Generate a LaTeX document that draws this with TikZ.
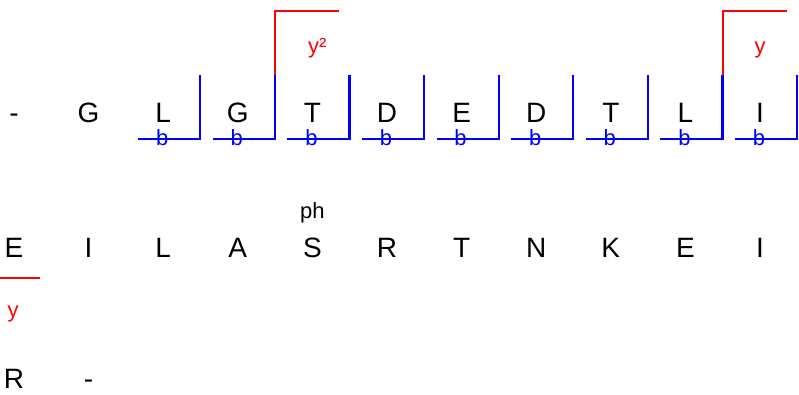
\documentclass[tikz,border=0pt]{standalone}
\usepackage{fontspec}
\setmainfont{Liberation Sans}
\usetikzlibrary{positioning,calc}

\begin{document}
\begin{tikzpicture}[
  x=1pt, y=-1pt,
  node distance=74.6pt, on grid,
  res/.style={inner sep=0pt,text height=19pt,text depth=0pt,font=\fontsize{28}{28}\selectfont},
  lab/.style={inner sep=0pt,anchor=base,font=\fontsize{22}{22}\selectfont},
  bion/.style={draw=blue,line width=2.2pt},
  yion/.style={draw=red,line width=2.2pt}]
  \useasboundingbox (0,0) rectangle (799,394);
  % top row
  \node[res] (t0) at (14,112.5) {-};
  \node[res] (t1) [right=of t0] {G};
  \node[res] (t2) [right=of t1] {L};
  \node[res] (t3) [right=of t2] {G};
  \node[res] (t4) [right=of t3] {T};
  \node[res] (t5) [right=of t4] {D};
  \node[res] (t6) [right=of t5] {E};
  \node[res] (t7) [right=of t6] {D};
  \node[res] (t8) [right=of t7] {T};
  \node[res] (t9) [right=of t8] {L};
  \node[res] (t10) [right=of t9] {I};
  % middle row
  \node[res] (m0) at (14,247.5) {E};
  \node[res] (m1) [right=of m0] {I};
  \node[res] (m2) [right=of m1] {L};
  \node[res] (m3) [right=of m2] {A};
  \node[res] (m4) [right=of m3] {S};
  \node[res] (m5) [right=of m4] {R};
  \node[res] (m6) [right=of m5] {T};
  \node[res] (m7) [right=of m6] {N};
  \node[res] (m8) [right=of m7] {K};
  \node[res] (m9) [right=of m8] {E};
  \node[res] (m10) [right=of m9] {I};
  % bottom row
  \node[res] (z0) at (14,378.5) {R};
  \node[res] (z1) [right=of z0] {-};
  % b ions
  \foreach \i in {2,...,10}{
    \draw[bion] ($(t\i)+(-25,26.5)$) -- ++(62,0) -- ++(0,-64);
    \node[lab,text=blue] (b\i) at ($(t\i)+(-1,33)$) {b};
  }
  % y ions
  \draw[yion] ($(t3)+(37,-37.5)$) -- ++(0,-64) -- ++(64,0);
  \node[lab,text=red] (y4) at ($(t4)+(5,-59.5)$) {y²};
  \draw[yion] ($(t9)+(37.5,-37.5)$) -- ++(0,-64) -- ++(64,0);
  \node[lab,text=red] (y10) at ($(t10)+(0,-59.5)$) {y};
  \draw[yion] ($(m0)+(-14,30.5)$) -- ++(40,0);
  \node[lab,text=red] (y0) at ($(m0)+(-1,69.5)$) {y};
  % modification
  \node[lab] (ph) at ($(m4)+(0,-29.5)$) {ph};
\end{tikzpicture}
\end{document}
